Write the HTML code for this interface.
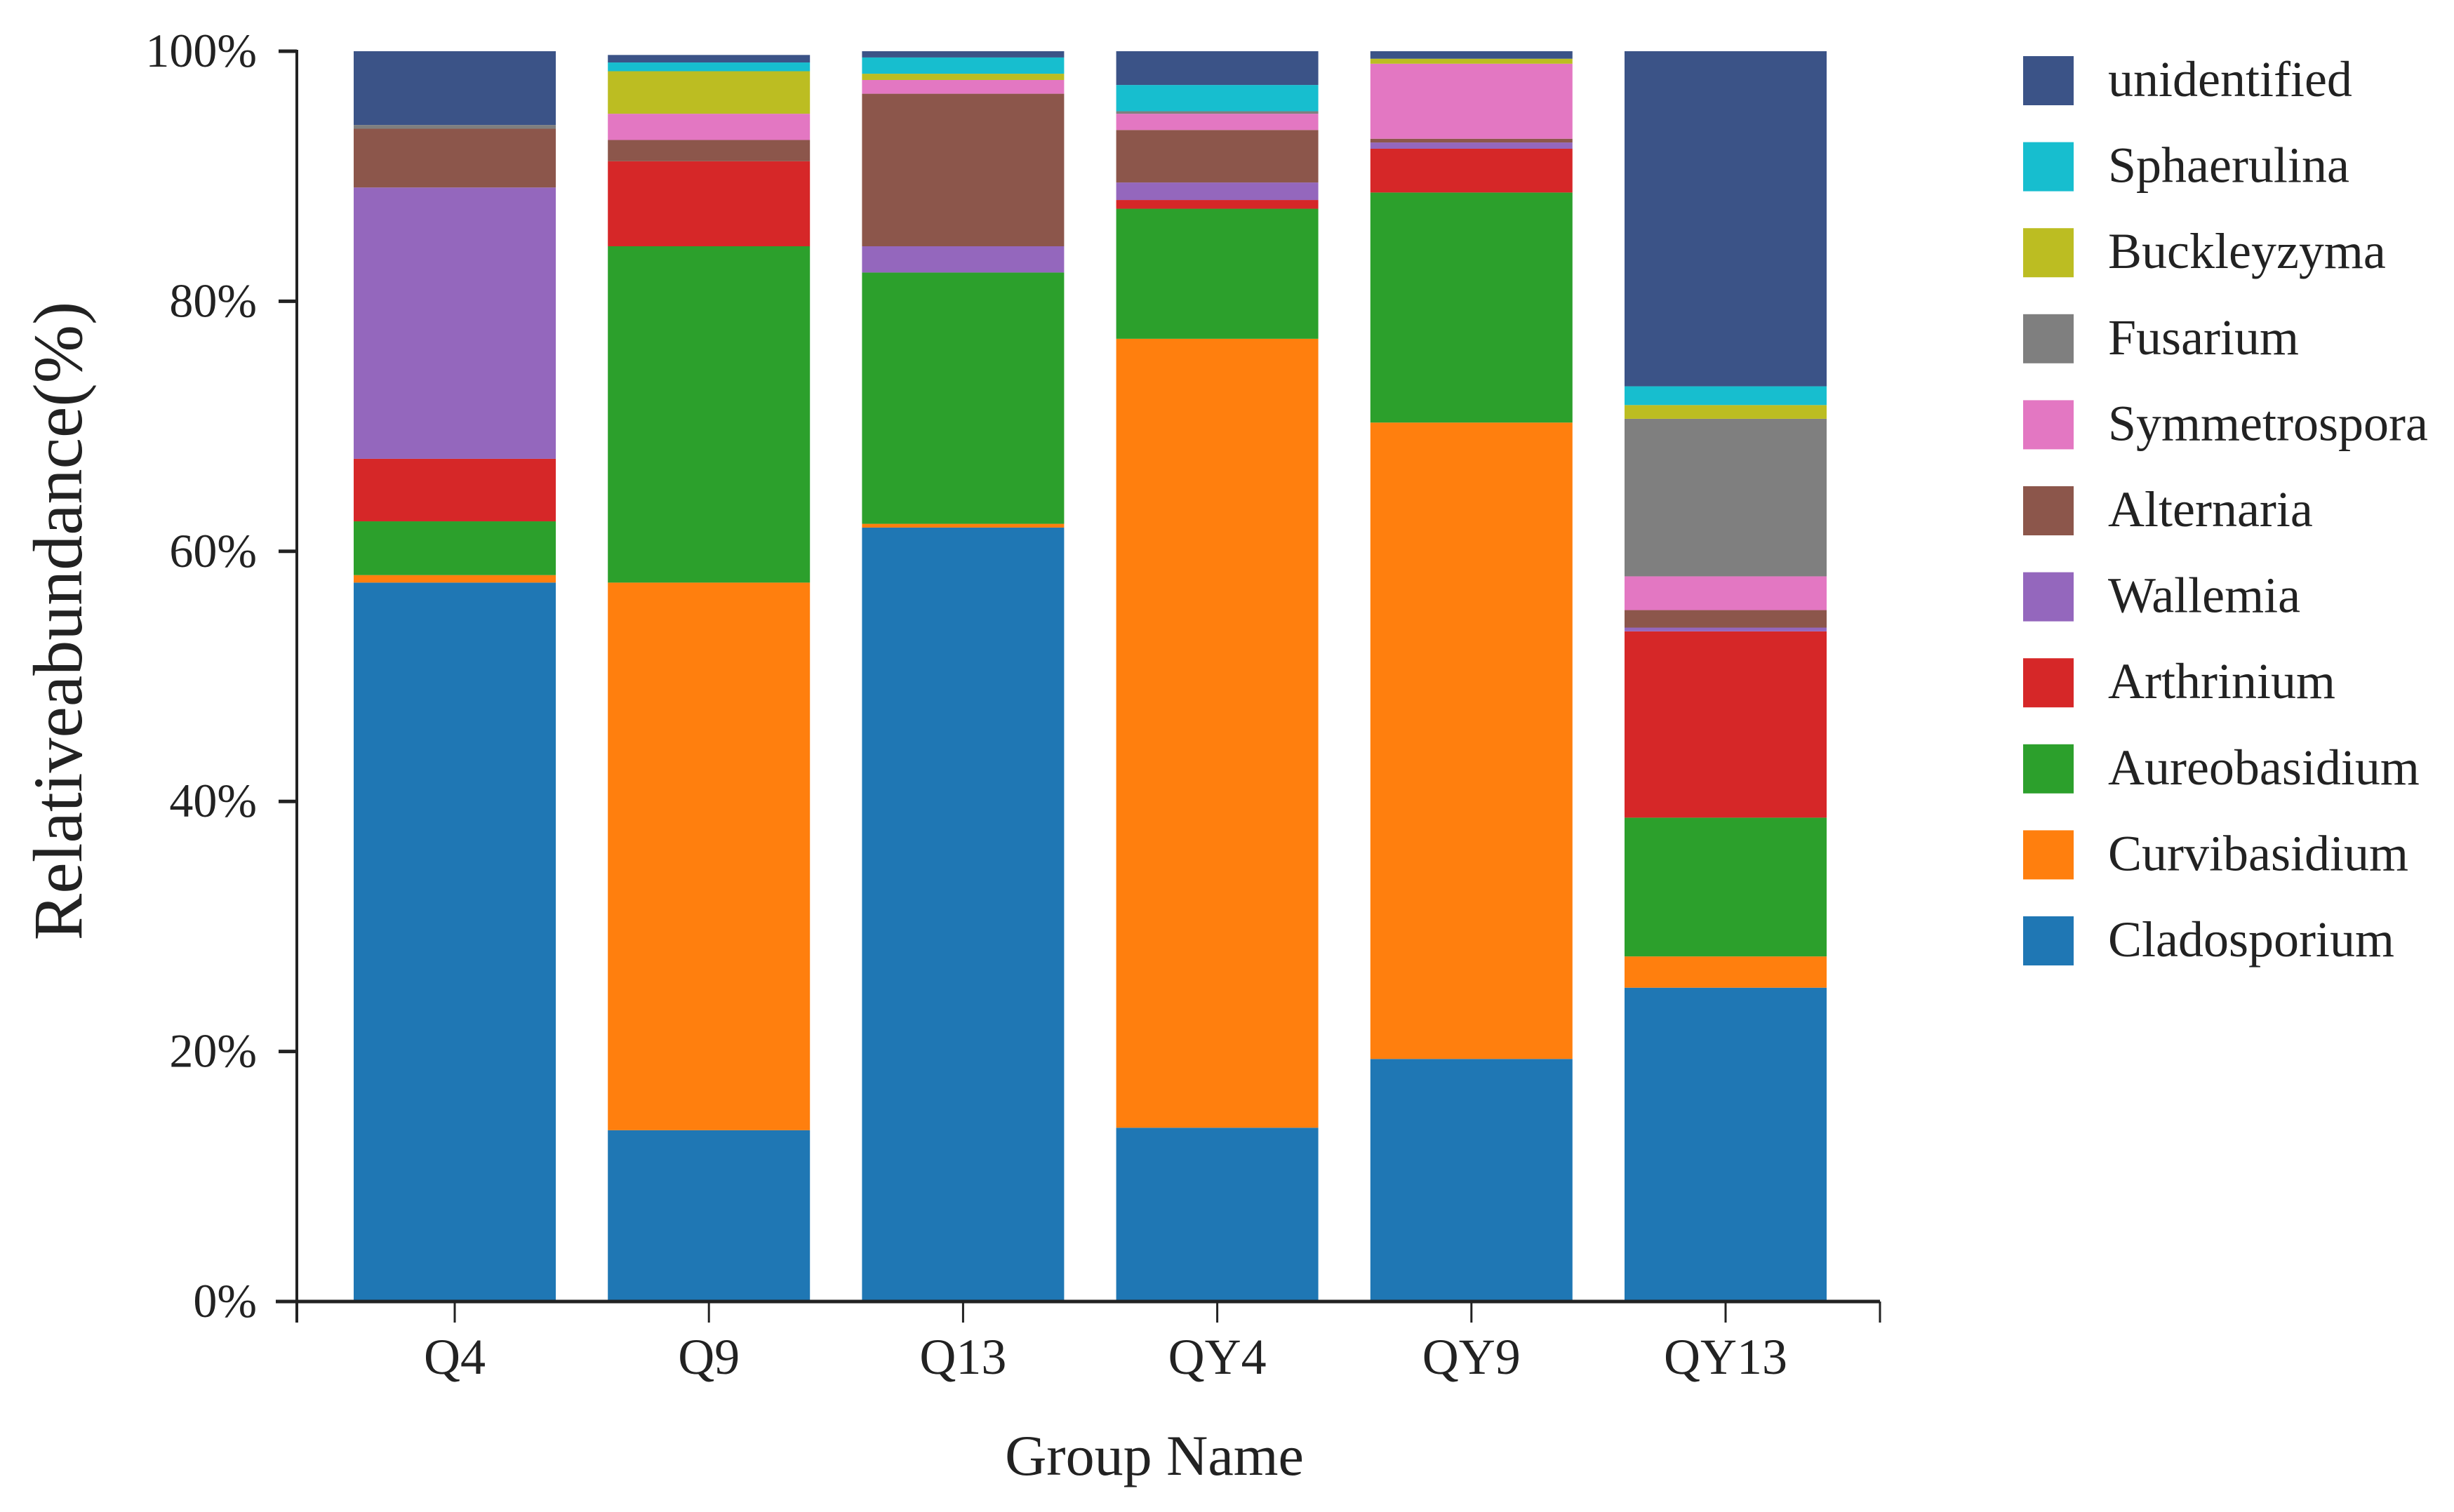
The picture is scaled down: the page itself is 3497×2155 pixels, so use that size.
<!DOCTYPE html>
<html><head><meta charset="utf-8"><style>
html,body{margin:0;padding:0;background:#fff;}
svg{display:block;font-family:"Liberation Serif",serif;}
</style></head><body>
<svg id="chart" width="3497" height="2155" viewBox="0 0 3497 2155"></svg>
<script>
const categories = ["Q4","Q9","Q13","QY4","QY9","QY13"];
const seriesNames = ["Cladosporium","Curvibasidium","Aureobasidium","Arthrinium","Wallemia","Alternaria","Symmetrospora","Fusarium","Buckleyzyma","Sphaerulina","unidentified"];
const cladosporium = [57.5,13.7,61.9,13.9,19.4,25.1];
const curvibasidium = [0.6,43.8,0.3,63.1,50.9,2.5];
const aureobasidium = [4.3,26.9,20.1,10.4,18.4,11.1];
const arthrinium = [5.0,6.8,0,0.7,3.5,14.9];
const wallemia = [21.7,0,2.1,1.4,0.5,0.3];
const alternaria = [4.7,1.7,12.2,4.2,0.3,1.4];
const symmetrospora = [0,2.1,1.1,1.3,6.0,2.7];
const fusarium = [0.3,0,0,0.2,0,12.6];
const buckleyzyma = [0,3.4,0.5,0,0.4,1.1];
const sphaerulina = [0,0.7,1.3,2.1,0,1.5];
const unidentified = [5.9,0.6,0.5,2.7,0.6,26.8];
const yTicks = [0,20,40,60,80,100];
const yTickLabels = ["0%","20%","40%","60%","80%","100%"];

const series = [cladosporium,curvibasidium,aureobasidium,arthrinium,wallemia,alternaria,symmetrospora,fusarium,buckleyzyma,sphaerulina,unidentified];
const colors = ["#1f77b4","#ff7f0e","#2ca02c","#d62728","#9467bd","#8c564b","#e377c2","#7f7f7f","#bcbd22","#17becf","#3b5387"];
const NS="http://www.w3.org/2000/svg";
const svg=document.getElementById('chart');
const X0=423, X1=2679, Y0=1855, Y100=73;
const step=362.2, firstC=648, barW=288;
function yScale(v){return Y0-(Y0-Y100)*v/100;}
function xScale(i){return firstC+step*i;}
function mk(tag,attrs){const e=document.createElementNS(NS,tag);for(const k in attrs)e.setAttribute(k,attrs[k]);svg.appendChild(e);return e;}

categories.forEach((c,i)=>{
  let acc=0;
  series.forEach((s,j)=>{
    const v=s[i];
    if(v<=0){return;}
    const r=mk('rect',{x:xScale(i)-barW/2,y:yScale(acc+v),width:barW,height:yScale(acc)-yScale(acc+v),fill:colors[j]});
    
    
    acc+=v;
  });
});

let a=mk('line',{x1:X0,y1:Y100-2,x2:X0,y2:Y0+30,stroke:'#222','stroke-width':4});


a=mk('line',{x1:X0-30,y1:Y0,x2:X1,y2:Y0,stroke:'#222','stroke-width':5});


a=mk('line',{x1:X1,y1:Y0,x2:X1,y2:Y0+30,stroke:'#222','stroke-width':3});



yTicks.forEach((t,k)=>{
  const y=yScale(t);
  const l=mk('line',{x1:X0-26,y1:y,x2:X0,y2:y,stroke:'#222','stroke-width':5});
  
  
  const tx=mk('text',{x:366,y:y+22,'text-anchor':'end','font-size':68,fill:'#222'});
  tx.textContent=yTickLabels[k];
  
  
});
categories.forEach((c,i)=>{
  const x=xScale(i);
  const l=mk('line',{x1:x,y1:Y0,x2:x,y2:Y0+30,stroke:'#222','stroke-width':3});
  
  
  const tx=mk('text',{x:x,y:1958,'text-anchor':'middle','font-size':72,fill:'#222'});
  tx.textContent=c;
  
  
});
let t=mk('text',{x:1645,y:2102,'text-anchor':'middle','font-size':82,fill:'#222'});
t.textContent='Group Name';


t=mk('text',{x:0,y:0,'text-anchor':'middle','font-size':100,fill:'#222',transform:'translate(116,885) rotate(-90)'});
t.textContent='Relativeabundance(%)';



for(let k=0;k<seriesNames.length;k++){
  const j=seriesNames.length-1-k;
  const cy=114+122.6*k;
  const r=mk('rect',{x:2883,y:cy-34,width:72,height:70,fill:colors[j]});
  
  
  const tx=mk('text',{x:3004,y:cy+23,'font-size':72,fill:'#222'});
  tx.textContent=seriesNames[j];
  
  
}
</script>
</body></html>
